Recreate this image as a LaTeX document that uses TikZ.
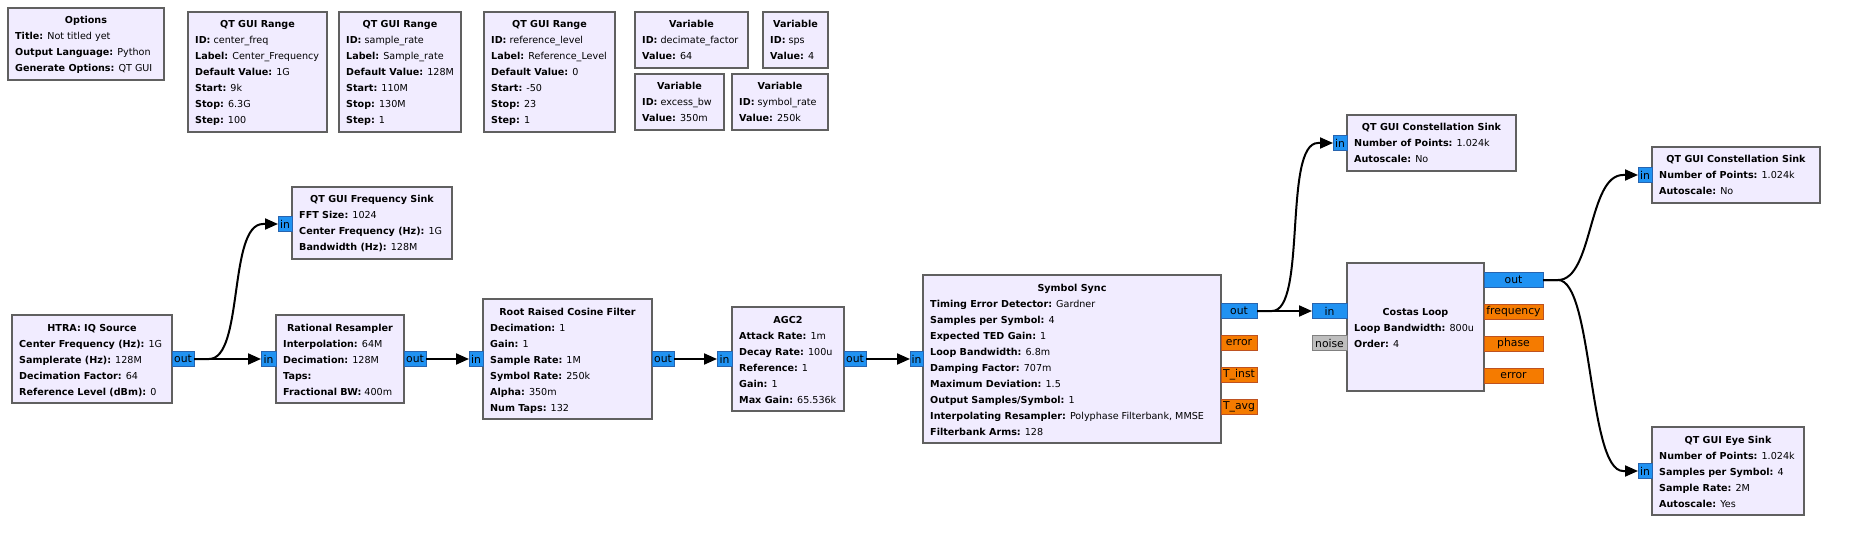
\documentclass[tikz,border=0pt]{standalone}
\usepackage{fontspec}
\setmainfont{DejaVu Sans}
\usetikzlibrary{arrows.meta,calc}
\definecolor{blkfill}{RGB}{241,236,255}
\definecolor{blkborder}{RGB}{96,96,96}
\definecolor{portblue}{RGB}{32,146,242}
\definecolor{portblueb}{RGB}{40,100,175}
\definecolor{portor}{RGB}{245,123,0}
\definecolor{portorb}{RGB}{190,82,32}
\definecolor{portgray}{RGB}{190,190,190}
\definecolor{portgrayb}{RGB}{128,128,128}
\newcommand\kk[1]{\textbf{#1}}
\newcommand\grcblk[8]{%
  \node[blk, minimum width=#4pt, minimum height=#5pt] (#1) at (#2,#3) {};
  \node[ttl] (#1-title) at ({#2+#4/2},{#3+#8}) {#6};
  \foreach \pl [count=\i] in {#7} {
    \node[prop] (#1-l\i) at ({#2+7},{#3+#8+16*\i}) {\pl};
  }
}
\newcommand\grcconn[2]{%
  \draw[conn] (#1.east) -- ++(15,0) .. controls ($(#1.east)+(50,0)$) and ($(#2.west)+(-50,0)$) .. ($(#2.west)+(-15,0)$) -- (#2.west);
}
\begin{document}
\begin{tikzpicture}[x=1pt,y=-1pt,
  font=\fontsize{9.6}{12}\selectfont,
  blk/.style={draw=blkborder, fill=blkfill, line width=2.2pt, anchor=north west, inner sep=0pt, outer sep=0pt},
  ttl/.style={font=\fontsize{9.6}{12}\selectfont\bfseries, anchor=base, inner sep=0pt},
  prop/.style={anchor=base west, inner sep=0pt},
  port/.style={line width=0.9pt, inner sep=0pt, outer sep=0pt, minimum height=15pt, font=\fontsize{10.8}{12}\selectfont},
  pin/.style={port, fill=portblue, draw=portblueb, anchor=east},
  pout/.style={port, fill=portblue, draw=portblueb, anchor=west},
  porange/.style={port, fill=portor, draw=portorb, anchor=west},
  pgray/.style={port, fill=portgray, draw=portgrayb, anchor=east},
  conn/.style={line width=2pt, -{Triangle[length=13pt,width=11pt]}},
]
\fill[white] (0,0) rectangle (1854,537);
\path[use as bounding box] (0,0) rectangle (1854,537);

% variable / option blocks
\grcblk{options}{8}{8}{156}{72}{Options}{\kk{Title:} Not titled yet, \kk{Output Language:} Python, \kk{Generate Options:} QT GUI}{16}
\grcblk{rangeA}{188}{12}{139}{120}{QT GUI Range}{\kk{ID:} center\_freq, \kk{Label:} Center\_Frequency, \kk{Default Value:} 1G, \kk{Start:} 9k, \kk{Stop:} 6.3G, \kk{Step:} 100}{16}
\grcblk{rangeB}{339}{12}{122}{120}{QT GUI Range}{\kk{ID:} sample\_rate, \kk{Label:} Sample\_rate, \kk{Default Value:} 128M, \kk{Start:} 110M, \kk{Stop:} 130M, \kk{Step:} 1}{16}
\grcblk{rangeC}{484}{12}{131}{120}{QT GUI Range}{\kk{ID:} reference\_level, \kk{Label:} Reference\_Level, \kk{Default Value:} 0, \kk{Start:} -50, \kk{Stop:} 23, \kk{Step:} 1}{16}
\grcblk{varA}{635}{12}{113}{56}{Variable}{\kk{ID:} decimate\_factor, \kk{Value:} 64}{16}
\grcblk{varB}{763}{12}{65}{56}{Variable}{\kk{ID:} sps, \kk{Value:} 4}{16}
\grcblk{varC}{635}{74}{89}{56}{Variable}{\kk{ID:} excess\_bw, \kk{Value:} 350m}{16}
\grcblk{varD}{732}{74}{96}{56}{Variable}{\kk{ID:} symbol\_rate, \kk{Value:} 250k}{16}

% processing blocks
\grcblk{fsink}{292}{187}{160}{72}{QT GUI Frequency Sink}{\kk{FFT Size:} 1024, \kk{Center Frequency (Hz):} 1G, \kk{Bandwidth (Hz):} 128M}{16}
\grcblk{htra}{12}{315}{160}{88}{HTRA: IQ Source}{\kk{Center Frequency (Hz):} 1G, \kk{Samplerate (Hz):} 128M, \kk{Decimation Factor:} 64, \kk{Reference Level (dBm):} 0}{16}
\grcblk{resamp}{276}{315}{128}{88}{Rational Resampler}{\kk{Interpolation:} 64M, \kk{Decimation:} 128M, \kk{Taps:}, \kk{Fractional BW:} 400m}{16}
\grcblk{rrc}{483}{299}{169}{120}{Root Raised Cosine Filter}{\kk{Decimation:} 1, \kk{Gain:} 1, \kk{Sample Rate:} 1M, \kk{Symbol Rate:} 250k, \kk{Alpha:} 350m, \kk{Num Taps:} 132}{16}
\grcblk{agc}{732}{307}{112}{104}{AGC2}{\kk{Attack Rate:} 1m, \kk{Decay Rate:} 100u, \kk{Reference:} 1, \kk{Gain:} 1, \kk{Max Gain:} 65.536k}{16}
\grcblk{ssync}{923}{275}{298}{168}{Symbol Sync}{\kk{Timing Error Detector:} Gardner, \kk{Samples per Symbol:} 4, \kk{Expected TED Gain:} 1, \kk{Loop Bandwidth:} 6.8m, \kk{Damping Factor:} 707m, \kk{Maximum Deviation:} 1.5, \kk{Output Samples/Symbol:} 1, {\kk{Interpolating Resampler:} Polyphase Filterbank, MMSE}, \kk{Filterbank Arms:} 128}{16}
\grcblk{cons1}{1347}{115}{169}{56}{QT GUI Constellation Sink}{\kk{Number of Points:} 1.024k, \kk{Autoscale:} No}{16}
\grcblk{costas}{1347}{263}{137}{128}{Costas Loop}{\kk{Loop Bandwidth:} 800u, \kk{Order:} 4}{52}
\grcblk{cons2}{1652}{147}{168}{56}{QT GUI Constellation Sink}{\kk{Number of Points:} 1.024k, \kk{Autoscale:} No}{16}
\grcblk{eye}{1652}{427}{152}{88}{QT GUI Eye Sink}{\kk{Number of Points:} 1.024k, \kk{Samples per Symbol:} 4, \kk{Sample Rate:} 2M, \kk{Autoscale:} Yes}{16}

% ports
\node[pout, minimum width=22pt] (htra-out) at (172,359) {out};
\node[pin, minimum width=14pt] (fsink-in) at (292,224) {in};
\node[pin, minimum width=15pt] (resamp-in) at (276,359) {in};
\node[pout, minimum width=22pt] (resamp-out) at (404,359) {out};
\node[pin, minimum width=14pt] (rrc-in) at (483,359) {in};
\node[pout, minimum width=22pt] (rrc-out) at (652,359) {out};
\node[pin, minimum width=15pt] (agc-in) at (732,359) {in};
\node[pout, minimum width=22pt] (agc-out) at (844,359) {out};
\node[pin, minimum width=13pt] (ssync-in) at (923,359) {in};
\node[pout, minimum width=36pt] (ssync-out) at (1221,311) {out};
\node[porange, minimum width=36pt] (ssync-err) at (1221,343) {error};
\node[porange, minimum width=36pt] (ssync-ti) at (1221,375) {T\_inst};
\node[porange, minimum width=36pt] (ssync-ta) at (1221,407) {T\_avg};
\node[pin, minimum width=14pt] (cons1-in) at (1347,143) {in};
\node[pin, minimum width=35pt] (costas-in) at (1347,311) {in};
\node[pgray, minimum width=35pt] (costas-noise) at (1347,343) {noise};
\node[pout, minimum width=59pt] (costas-out) at (1484,280) {out};
\node[porange, minimum width=59pt] (costas-freq) at (1484,312) {frequency};
\node[porange, minimum width=59pt] (costas-phase) at (1484,344) {phase};
\node[porange, minimum width=59pt] (costas-err) at (1484,376) {error};
\node[pin, minimum width=14pt] (cons2-in) at (1652,175) {in};
\node[pin, minimum width=14pt] (eye-in) at (1652,471) {in};

% connections
\grcconn{htra-out}{fsink-in}
\grcconn{htra-out}{resamp-in}
\grcconn{resamp-out}{rrc-in}
\grcconn{rrc-out}{agc-in}
\grcconn{agc-out}{ssync-in}
\grcconn{ssync-out}{cons1-in}
\grcconn{ssync-out}{costas-in}
\grcconn{costas-out}{cons2-in}
\grcconn{costas-out}{eye-in}
\end{tikzpicture}
\end{document}
